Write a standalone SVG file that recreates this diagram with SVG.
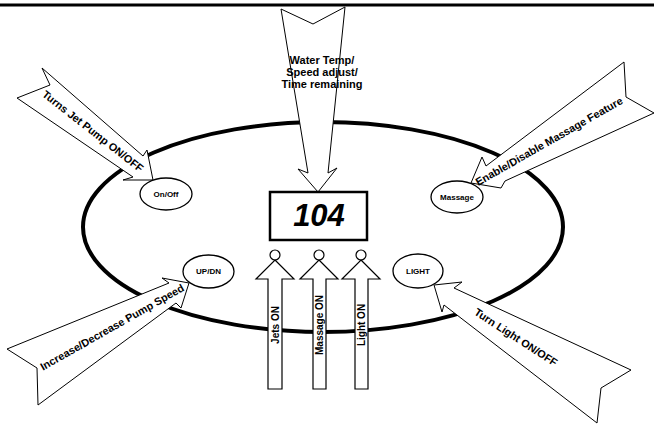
<svg xmlns="http://www.w3.org/2000/svg" width="654" height="427" viewBox="0 0 654 427">
<style>
  .bg{fill:#fff}
  .callout{fill:#fff;stroke:#000;stroke-width:1;stroke-linejoin:miter}
  .ind{fill:#fff;stroke:#000;stroke-width:1.2}
  .btn{fill:#fff;stroke:#000;stroke-width:1.3}
  .lbl{font-family:"Liberation Sans",Arial,sans-serif;font-weight:bold;font-size:10px;fill:#000}
  .clbl{font-family:"Liberation Sans",Arial,sans-serif;font-weight:bold;font-size:10.8px;fill:#000}
  .tlbl{font-family:"Liberation Sans",Arial,sans-serif;font-weight:bold;font-size:11px;fill:#000}
  .btxt{font-family:"Liberation Sans",Arial,sans-serif;font-weight:bold;font-size:8px;fill:#000}
</style>
<rect class="bg" x="0" y="0" width="654" height="427"/>
<line x1="0" y1="5" x2="654" y2="5" stroke="#000" stroke-width="3"/>

<g id="tub">
  <ellipse cx="323" cy="227" rx="240" ry="105" fill="none" stroke="#000" stroke-width="4"/>
</g>

<g id="connectors">
  <g id="arrow-display">
    <polygon class="callout" points="281,9 313,24 345,7 328,173 337,168 318,192 298,169 308,173"/>
    <text class="tlbl" text-anchor="middle" x="322" y="64">Water Temp/</text>
    <text class="tlbl" text-anchor="middle" x="322" y="76">Speed adjust/</text>
    <text class="tlbl" text-anchor="middle" x="322" y="88">Time remaining</text>
  </g>
  <g id="arrow-onoff">
    <polygon class="callout" points="42,68 50,85 17,98 133,177 123,180 153,180 147,150 143,156"/>
    <text class="clbl" text-anchor="middle" dominant-baseline="central" transform="translate(93,131) rotate(38)">Turns Jet Pump ON/OFF</text>
  </g>
  <g id="arrow-massage">
    <polygon class="callout" points="624,62 626,97 654,113 505,181 501,188 471,183 482,157 486,166"/>
    <text class="clbl" text-anchor="middle" dominant-baseline="central" transform="translate(549,141) rotate(-29.7)">Enable/Disable Massage Feature</text>
  </g>
  <g id="arrow-updn">
    <polygon class="callout" points="7,349 37,368 38,405 176,303 181,308 189,283 162,278 169,283"/>
    <text class="clbl" text-anchor="middle" dominant-baseline="central" transform="translate(112,327) rotate(-29.6)">Increase/Decrease Pump Speed</text>
  </g>
  <g id="arrow-light">
    <polygon class="callout" points="631,370 601,388 597,423 444,305 442,312 434,285 462,282 454,288"/>
    <text class="clbl" text-anchor="middle" dominant-baseline="central" transform="translate(516,337) rotate(33)">Turn Light ON/OFF</text>
  </g>
  <g id="ind-jets">
    <circle class="ind" cx="275" cy="255" r="5"/>
    <polygon class="ind" points="275,260 294,279 282,279 282,389 268,389 268,279 256,279"/>
    <text class="lbl" text-anchor="middle" dominant-baseline="central" transform="translate(275,325) rotate(-90)">Jets ON</text>
  </g>
  <g id="ind-massage">
    <circle class="ind" cx="319" cy="255" r="5"/>
    <polygon class="ind" points="319,260 338,279 326,279 326,389 313,389 313,279 300,279"/>
    <text class="lbl" text-anchor="middle" dominant-baseline="central" transform="translate(319.5,325) rotate(-90)">Massage ON</text>
  </g>
  <g id="ind-light">
    <circle class="ind" cx="361" cy="255" r="5"/>
    <polygon class="ind" points="361,260 380,279 368,279 368,389 355,389 355,279 342,279"/>
    <text class="lbl" text-anchor="middle" dominant-baseline="central" transform="translate(361.5,325) rotate(-90)">Light ON</text>
  </g>
</g>

<g id="display">
  <rect x="270" y="192" width="97" height="48" fill="#fff" stroke="#000" stroke-width="2.5"/>
  <text x="319" y="226" text-anchor="middle" style="font-family:'Liberation Sans',Arial,sans-serif;font-weight:bold;font-style:italic;font-size:31px">104</text>
</g>

<g id="btn-onoff">
  <ellipse class="btn" cx="166" cy="194" rx="26" ry="16"/>
  <text class="btxt" x="166" y="194" text-anchor="middle" dominant-baseline="central">On/Off</text>
</g>
<g id="btn-massage">
  <ellipse class="btn" cx="457" cy="197" rx="26" ry="16"/>
  <text class="btxt" x="457" y="197" text-anchor="middle" dominant-baseline="central">Massage</text>
</g>
<g id="btn-updn">
  <ellipse class="btn" cx="208.5" cy="271.5" rx="25.5" ry="16.5"/>
  <text class="btxt" x="208.5" y="271.5" text-anchor="middle" dominant-baseline="central">UP/DN</text>
</g>
<g id="btn-light">
  <ellipse class="btn" cx="418" cy="271" rx="25" ry="17"/>
  <text class="btxt" x="418" y="271" text-anchor="middle" dominant-baseline="central">LIGHT</text>
</g>
</svg>
